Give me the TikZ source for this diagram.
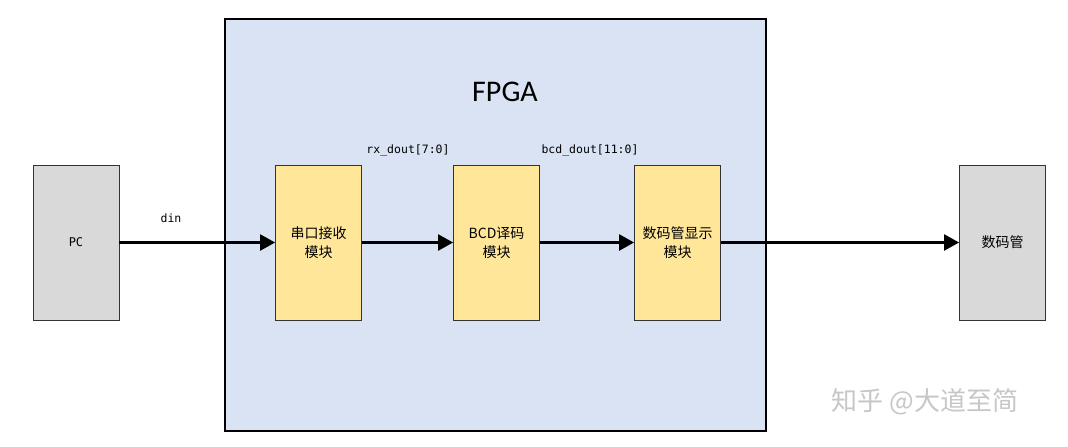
\documentclass[tikz,border=0pt]{standalone}
\usepackage{fontspec}
\newfontfamily\cjk{Noto Sans CJK SC}
\newfontfamily\calfont{Carlito}
\newfontfamily\sigfont{DejaVu Sans Mono}
\usetikzlibrary{arrows.meta,positioning}
\definecolor{fpgablue}{RGB}{218,227,243}
\definecolor{modyellow}{RGB}{255,230,153}
\definecolor{extgray}{RGB}{217,217,217}

\begin{document}
\begin{tikzpicture}[x=1pt,y=-1pt,font=\cjk\fontsize{12}{14}\selectfont,
  modbox/.style={draw=black!80,line width=0.8pt,fill=modyellow,minimum width=86pt,minimum height=155pt,
    align=center,inner sep=2pt,font=\cjk\fontsize{14}{19}\selectfont},
  extbox/.style={modbox,fill=extgray},
  sig/.style={font=\sigfont\fontsize{11.5}{13}\selectfont},
  arr/.style={-{Triangle[length=15pt,width=16pt]},line width=2.4pt,black}]
\useasboundingbox[fill=white] (0,0) rectangle (1068,447);
% FPGA frame
\node[draw=black,line width=2pt,fill=fpgablue,minimum width=541pt,minimum height=412pt] (fpga) at (495.5,225) {};
\node[font=\calfont\fontsize{30}{34}\selectfont] (fpgatxt) at (505,92) {FPGA};
% blocks
\node[extbox] (pc) at (76,242.5) {\sigfont\fontsize{12}{14}\selectfont PC};
\node[modbox] (uart) at (318.5,242.5) {串口接收\\模块};
\node[modbox] (bcd) at (496.5,242.5) {BCD译码\\模块};
\node[modbox] (disp) at (677.5,242.5) {数码管显示\\模块};
\node[extbox] (seg) at (1002.5,242.5) {数码管};
% signals
\draw[arr] (pc) -- (uart);
\draw[arr] (uart) -- (bcd);
\draw[arr] (bcd) -- (disp);
\draw[arr] (disp) -- (seg);
\node[sig] (din) at (171,218) {din};
\node[sig] (rxd) at (408,150) {rx\_dout[7:0]};
\node[sig] (bcdd) at (590,150) {bcd\_dout[11:0]};
% watermark
\node[text=black!22,font=\cjk\fontsize{26}{30}\selectfont] (wm) at (925,402) {知乎 @大道至简};
\end{tikzpicture}
\end{document}
